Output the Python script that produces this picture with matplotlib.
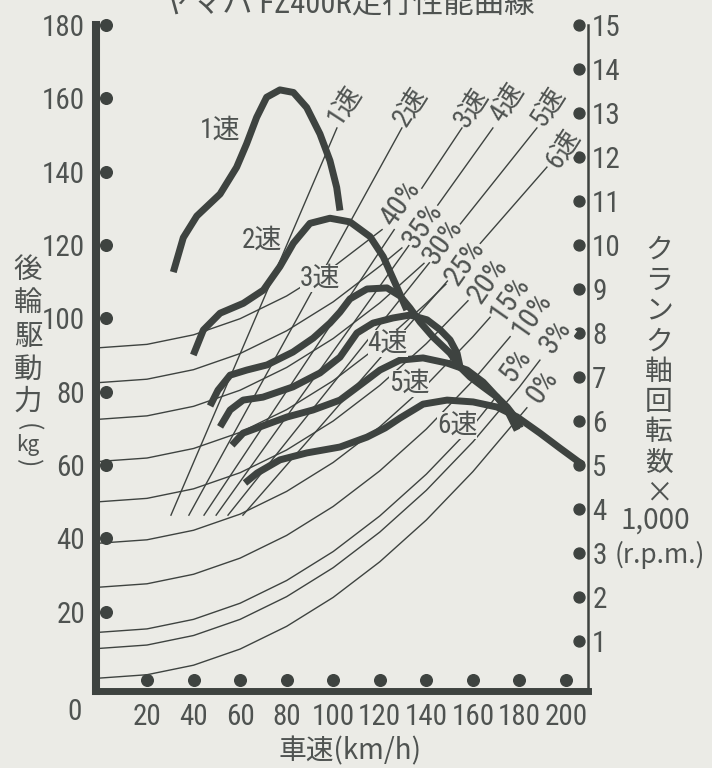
import matplotlib
matplotlib.use('Agg')
import matplotlib.pyplot as plt
from matplotlib import font_manager as fm
from matplotlib.transforms import blended_transform_factory, ScaledTranslation

BG = '#ebebe6'
INK = '#3e4340'
TXT = '#4f5351'
JP_FONT = ['Noto Sans CJK JP', 'DejaVu Sans']

# pick a narrow face for the numbers if one is installed
narrow_name, narrow_stretch = None, 'normal'
for cand in ['Liberation Sans Narrow', 'Roboto Condensed', 'Open Sans Condensed', 'Noto Sans Condensed']:
    if any(f.name == cand for f in fm.fontManager.ttflist):
        narrow_name = cand
        break
if narrow_name is None:
    for f in fm.fontManager.ttflist:
        if str(f.stretch) in ('condensed', 'semi-condensed', 'extra-condensed') or 'Narrow' in f.name:
            narrow_name, narrow_stretch = f.name, str(f.stretch)
            break
if narrow_name:
    NUM_FONT = [narrow_name] + JP_FONT
    NUM_SIZE = 21
else:
    NUM_FONT = JP_FONT
    NUM_SIZE = 17.5

# ---- data ----
title = 'ヤマハ FZ400R走行性能曲線'

speed_ticks = [20, 40, 60, 80, 100, 120, 140, 160, 180, 200]
force_ticks = [20, 40, 60, 80, 100, 120, 140, 160, 180]
rpm_ticks = [1, 2, 3, 4, 5, 6, 7, 8, 9, 10, 11, 12, 13, 14, 15]

# driving force per gear (km/h, kg)
g1_kmh = [31.3, 35.6, 41.4, 51.4, 58.5, 62.8, 67.1, 71.4, 77.1, 82.9, 88.6, 94.3, 98.6, 101.5, 102.9]
g1_kg = [112.6, 122.0, 127.9, 133.9, 141.2, 147.6, 154.8, 160.3, 162.3, 161.6, 157.5, 150.3, 143.0, 135.7, 129.4]
g2_kmh = [39.9, 44.2, 51.4, 61.4, 70.0, 77.1, 82.9, 90.0, 98.6, 107.2, 115.8, 121.5, 127.3, 131.6]
g2_kg = [90.0, 96.8, 101.4, 104.1, 107.7, 114.1, 120.5, 125.9, 127.3, 126.3, 122.3, 116.8, 108.6, 102.3]
g3_kmh = [47.1, 50.5, 55.7, 62.9, 71.6, 82.7, 91.4, 98.6, 102.9, 107.2, 114.5, 123.1, 128.7, 133.0,
          137.3, 142.9, 150.2, 154.5, 158.8, 164.4, 170.4, 174.7, 179.0, 180.3]
g3_kg = [76.1, 80.4, 84.5, 85.9, 87.3, 90.8, 94.6, 98.7, 101.7, 105.3, 108.0, 108.3, 106.1, 102.8,
         99.0, 94.9, 90.5, 86.7, 84.0, 81.3, 78.5, 75.8, 72.3, 70.1]
g4_kmh = [51.4, 55.7, 61.3, 69.8, 82.7, 94.3, 102.9, 110.2, 117.1, 125.7, 133.0, 140.3, 145.9, 150.2, 153.2, 154.5]
g4_kg = [70.4, 75.0, 77.7, 78.5, 81.3, 85.1, 89.4, 96.0, 98.7, 100.1, 100.9, 99.6, 96.9, 94.1, 90.5, 86.7]
g5_kmh = [56.5, 61.3, 68.6, 80.2, 91.3, 102.9, 112.8, 120.1, 128.7, 138.6, 148.9, 157.5, 164.4, 170.4, 174.7, 179.0]
g5_kg = [65.4, 68.7, 70.4, 73.1, 75.0, 77.7, 82.4, 85.9, 88.6, 89.2, 87.8, 85.9, 82.6, 78.5, 75.0, 69.5]
g6_kmh = [62.1, 67.3, 77.1, 88.7, 102.9, 114.5, 122.3, 128.7, 138.6, 148.9, 160.1, 170.4, 179.0, 188.8, 197.4, 207.3]
g6_kg = [55.1, 57.8, 61.4, 63.3, 64.9, 67.6, 70.1, 72.8, 76.6, 77.7, 77.2, 75.8, 73.1, 68.7, 64.6, 60.0]

gear_labels = ['1速', '2速', '3速', '4速', '5速', '6速']
gear_label_kmh = [51.4, 69.4, 94.3, 123.5, 132.6, 153.2]
gear_label_kg = [151.2, 121.2, 110.9, 93.2, 82.3, 70.8]

# engine speed line of each gear (km/h, rpm x1000)
line_start_kmh = [30.3, 38.0, 44.5, 49.7, 54.8, 61.2]
line_end_kmh = [101.6, 129.5, 155.3, 168.6, 187.5, 191.8]
line_start_rpm = [3.86, 3.86, 3.86, 3.86, 3.86, 3.86]
line_end_rpm = [12.66, 12.66, 12.66, 12.66, 12.66, 11.77]
line_label_kmh = [105.1, 133.0, 159.6, 174.7, 192.3, 198.7]
line_label_rpm = [13.18, 13.14, 13.11, 13.23, 13.14, 12.20]

# running resistance per gradient
grades = ['0%', '3%', '5%', '10%', '15%', '20%', '25%', '30%', '35%', '40%']
grade_kmh = [0, 20, 40, 60, 80, 100, 120, 140, 160, 180]
r0 = [1.9, 2.8, 5.4, 9.8, 16.0, 23.9, 33.6, 45.0, 58.2, 73.2]
r3 = [10.0, 10.9, 13.5, 17.9, 24.1, 32.0, 41.7, 53.1, 66.3, 81.3]
r5 = [14.4, 15.3, 17.9, 22.3, 28.5, 36.4, 46.1, 57.5, 70.7]
r10 = [26.7, 27.6, 30.2, 34.6, 40.8, 48.7, 58.4, 69.8, 83.0]
r15 = [38.7, 39.6, 42.2, 46.6, 52.8, 60.7, 70.4, 81.8, 95.0]
r20 = [50.0, 50.9, 53.5, 57.9, 64.1, 72.0, 81.7, 93.1]
r25 = [61.0, 61.9, 64.5, 68.9, 75.1, 83.0, 92.7, 104.1]
r30 = [72.5, 73.4, 76.0, 80.4, 86.6, 94.5, 104.2]
r35 = [82.5, 83.4, 86.0, 90.4, 96.6, 104.5, 114.2]
r40 = [92.0, 92.9, 95.5, 99.9, 106.1, 114.0]
grade_end_kmh = [183.2, 188.8, 170.5, 176.0, 167.4, 157.9, 148.4, 139.0, 129.5, 121.0]
grade_end_kg = [75.6, 88.6, 79.0, 95.0, 100.3, 104.8, 109.3, 115.0, 119.2, 124.2]
grade_label_kmh = [190.1, 195.7, 178.5, 185.4, 175.9, 166.5, 156.6, 147.2, 138.6, 129.1]
grade_label_kg = [81.3, 94.9, 87.3, 100.9, 105.5, 110.4, 115.1, 120.8, 125.4, 131.2]

# ---- figure ----
fig = plt.figure(figsize=(7.12, 7.68), dpi=100, facecolor=BG)
ax = fig.add_axes([96 / 712, 1 - 690.5 / 768, 492 / 712, 665.5 / 768])
ax.set_facecolor(BG)
ax.set_xlim(-1.9, 209.45)
ax.set_ylim(-1.5, 180)
ax2 = ax.twinx()
ax2.set_ylim(-1.5 / 12, 15)

for s in ['top', 'right']:
    ax.spines[s].set_visible(False)
for s in ['top', 'left', 'bottom']:
    ax2.spines[s].set_visible(False)
ax.spines['left'].set_linewidth(5.8)
ax.spines['bottom'].set_linewidth(5.0)
ax2.spines['right'].set_linewidth(1.8)
for sp in [ax.spines['left'], ax.spines['bottom'], ax2.spines['right']]:
    sp.set_color(INK)
    sp.set_capstyle('projecting')

# ticks: labels only, dots drawn separately
ax.set_xticks(speed_ticks)
ax.set_xticklabels([str(v) for v in speed_ticks])
ax.set_yticks(force_ticks)
ax.set_yticklabels([str(v) for v in force_ticks])
ax2.set_yticks(rpm_ticks)
ax2.set_yticklabels([str(v) for v in rpm_ticks])
ax.tick_params(axis='x', length=0, pad=9, labelsize=NUM_SIZE, labelcolor=TXT)
ax.tick_params(axis='y', length=0, pad=8, labelsize=NUM_SIZE, labelcolor=TXT)
ax2.tick_params(axis='y', length=0, pad=3, labelsize=NUM_SIZE, labelcolor=TXT)
for lab in ax.get_xticklabels() + ax.get_yticklabels() + ax2.get_yticklabels():
    lab.set_family(NUM_FONT)
    lab.set_stretch(narrow_stretch)

off = fig.dpi_scale_trans
tr_left = blended_transform_factory(ax.transAxes, ax.transData) + ScaledTranslation(0.10, 0, off)
tr_bot = blended_transform_factory(ax.transData, ax.transAxes) + ScaledTranslation(0, 0.105, off)
tr_right = blended_transform_factory(ax2.transAxes, ax2.transData) + ScaledTranslation(-0.09, 0, off)
ax.scatter([0] * len(force_ticks), force_ticks, s=70, color=INK, transform=tr_left, clip_on=False, zorder=5)
ax.scatter(speed_ticks, [0] * len(speed_ticks), s=70, color=INK, transform=tr_bot, clip_on=False, zorder=5)
ax2.scatter([1] * len(rpm_ticks), rpm_ticks, s=62, color=INK, transform=tr_right, clip_on=False, zorder=5)

# resistance curves
res = [r0, r3, r5, r10, r15, r20, r25, r30, r35, r40]
for i, r in enumerate(res):
    xs = grade_kmh[:len(r)] + [grade_end_kmh[i]]
    ys = r + [grade_end_kg[i]]
    ax.plot(xs, ys, color=INK, lw=1.0, zorder=2)

# gear engine-speed lines
for i in range(6):
    ax2.plot([line_start_kmh[i], line_end_kmh[i]], [line_start_rpm[i], line_end_rpm[i]],
             color=INK, lw=1.0, zorder=2)

# driving force curves
gears = [(g1_kmh, g1_kg), (g2_kmh, g2_kg), (g3_kmh, g3_kg),
         (g4_kmh, g4_kg), (g5_kmh, g5_kg), (g6_kmh, g6_kg)]
for xs, ys in gears:
    ax.plot(xs, ys, color=INK, lw=5.0, solid_capstyle='butt', solid_joinstyle='round', zorder=3)

box = dict(boxstyle='square,pad=0.0', fc=BG, ec='none')
for i, g in enumerate(grades):
    ax2.text(grade_label_kmh[i], grade_label_kg[i] / 12, g, rotation=55, rotation_mode='anchor',
             ha='center', va='center', fontsize=21.5, color=TXT, family=NUM_FONT,
             stretch=narrow_stretch, bbox=box, zorder=6)
for i, g in enumerate(gear_labels):
    ax2.text(line_label_kmh[i], line_label_rpm[i], g, rotation=57, rotation_mode='anchor',
             ha='center', va='center', fontsize=19.5, color=TXT, family=NUM_FONT,
             stretch=narrow_stretch, bbox=box, zorder=6)
    ax2.text(gear_label_kmh[i], gear_label_kg[i] / 12, g, ha='center', va='center',
             fontsize=19.5, color=TXT, family=NUM_FONT, stretch=narrow_stretch, bbox=box, zorder=6)

# texts
def fxy(x, y):
    return x / 712, 1 - y / 768

fig.text(*fxy(348, 13), title, ha='center', va='baseline', fontsize=22, color=TXT,
         family=NUM_FONT, stretch=narrow_stretch)
fig.text(*fxy(75, 712), '0', ha='center', va='center', fontsize=NUM_SIZE, color=TXT,
         family=NUM_FONT, stretch=narrow_stretch)
fig.text(*fxy(350, 751), '車速(km/h)', ha='center', va='center', fontsize=20, color=TXT, family=JP_FONT)

left_chars = ['後', '輪', '駆', '動', '力']
left_y = [270, 303, 337, 370, 402]
for c, y in zip(left_chars, left_y):
    fig.text(*fxy(28, y), c, ha='center', va='center', fontsize=20.5, color=TXT, family=JP_FONT)
fig.text(*fxy(28, 427), '(', rotation=270, ha='center', va='center', fontsize=18, color=TXT, family=JP_FONT)
fig.text(*fxy(28, 445), 'kg', ha='center', va='center', fontsize=15, color=TXT, family=JP_FONT)
fig.text(*fxy(28, 463), ')', rotation=270, ha='center', va='center', fontsize=18, color=TXT, family=JP_FONT)

right_chars = ['ク', 'ラ', 'ン', 'ク', '軸', '回', '転', '数', '×']
for i, c in enumerate(right_chars):
    fig.text(*fxy(659, 250 + 30.4 * i), c, ha='center', va='center', fontsize=20, color=TXT, family=JP_FONT)
fig.text(*fxy(655, 521), '1,000', ha='center', va='center', fontsize=20, color=TXT, family=JP_FONT)
fig.text(*fxy(660, 555), '(r.p.m.)', ha='center', va='center', fontsize=19, color=TXT, family=JP_FONT)

fig.savefig('out.png', dpi=100, facecolor=BG)
